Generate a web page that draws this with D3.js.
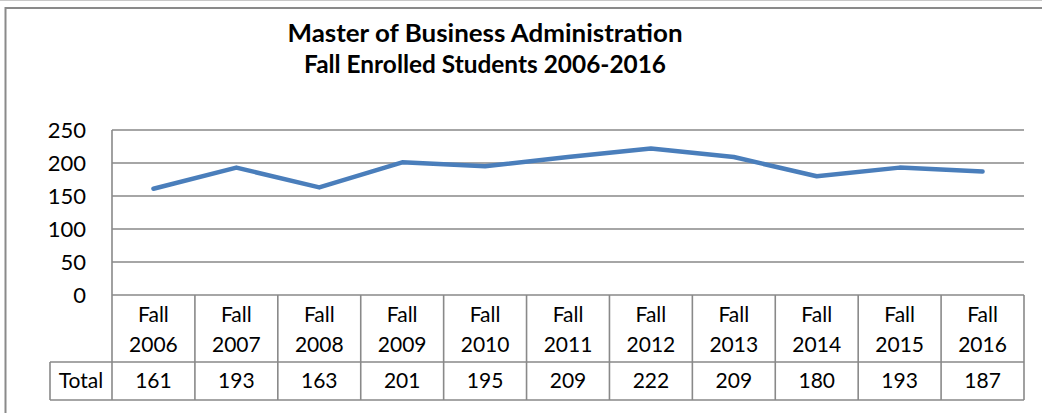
<!DOCTYPE html>
<html>
<head>
<meta charset="utf-8">
<script src="https://cdn.jsdelivr.net/npm/d3@7"></script>
<style>
  html, body { margin: 0; padding: 0; background: #fff; }
  svg { display: block; font-family: Lato, "Open Sans", sans-serif; }
</style>
</head>
<body>
<svg id="chart" width="1042" height="413"></svg>
<script>
// Fall enrollment, MBA program
const years = ["2006", "2007", "2008", "2009", "2010", "2011", "2012", "2013", "2014", "2015", "2016"];
const categories = years.map(y => "Fall " + y);
const totals = [161, 193, 163, 201, 195, 209, 222, 209, 180, 193, 187];
const yTicks = [0, 50, 100, 150, 200, 250];
const titleLines = ["Master of Business Administration", "Fall Enrolled Students 2006-2016"];
const seriesName = "Total";

const svg = d3.select("#chart");
const W = 1042, H = 413;
const plot = { left: 112, right: 1024, top: 130, bottom: 295 };
const table = { headerBottom: 362, rowBottom: 400, labelLeft: 50 };
const gridColor = "#898989";
const lineColor = "#4a7ebb";

// outer frame
svg.append("line").attr("x1", 0).attr("x2", W).attr("y1", 0.5).attr("y2", 0.5)
  .attr("stroke", "#c8c8c8").attr("stroke-width", 1);
svg.append("path")
  .attr("d", `M5.5,${H} V8 H${W}`)
  .attr("fill", "none").attr("stroke", "#8a8a8a").attr("stroke-width", 2);

// title, each line fitted to its laid-out width
const titleWidths = [395, 362];
titleLines.forEach((t, i) => {
  svg.append("text")
    .attr("x", 485).attr("y", 42 + i * 31)
    .attr("text-anchor", "middle")
    .attr("font-weight", "bold")
    .attr("font-size", 24)
    .attr("textLength", titleWidths[i])
    .attr("lengthAdjust", "spacingAndGlyphs")
    .attr("fill", "#000")
    .text(t);
});

const x = d3.scaleBand().domain(categories).range([plot.left, plot.right]);
const y = d3.scaleLinear().domain([0, 250]).range([plot.bottom, plot.top]);

// gridlines
svg.append("g").selectAll("line").data(yTicks).join("line")
  .attr("x1", plot.left).attr("x2", plot.right)
  .attr("y1", d => y(d)).attr("y2", d => y(d))
  .attr("stroke", gridColor).attr("stroke-width", 1.6);

// value axis
const yAxis = svg.append("g")
  .attr("transform", `translate(${plot.left},0)`)
  .call(d3.axisLeft(y).tickValues(yTicks).tickSize(0).tickPadding(26));
yAxis.select(".domain").remove();
yAxis.selectAll("text")
  .attr("font-family", "Lato, 'Open Sans', sans-serif")
  .attr("font-size", 22).attr("fill", "#000").attr("dy", "0.34em");

// left axis line runs down through the data table
svg.append("line").attr("x1", plot.left).attr("x2", plot.left)
  .attr("y1", plot.top).attr("y2", table.rowBottom)
  .attr("stroke", gridColor).attr("stroke-width", 1.6);

// data table
const tg = svg.append("g");
function hline(x1, x2, yy) {
  tg.append("line").attr("x1", x1).attr("x2", x2).attr("y1", yy).attr("y2", yy)
    .attr("stroke", gridColor).attr("stroke-width", 1.6);
}
function vline(xx, y1, y2) {
  tg.append("line").attr("x1", xx).attr("x2", xx).attr("y1", y1).attr("y2", y2)
    .attr("stroke", gridColor).attr("stroke-width", 1.6);
}
hline(table.labelLeft, plot.right, table.headerBottom);
hline(table.labelLeft, plot.right, table.rowBottom);
vline(table.labelLeft, table.headerBottom, table.rowBottom);
categories.forEach(c => vline(x(c) + x.bandwidth(), plot.bottom, table.rowBottom));

const fs = 21;
categories.forEach((c, i) => {
  const cx = x(c) + x.bandwidth() / 2;
  tg.append("text").attr("x", cx).attr("y", 322).attr("text-anchor", "middle")
    .attr("font-size", fs).attr("fill", "#000").text("Fall");
  tg.append("text").attr("x", cx).attr("y", 352).attr("text-anchor", "middle")
    .attr("font-size", fs).attr("fill", "#000").text(years[i]);
  tg.append("text").attr("x", cx).attr("y", 388).attr("text-anchor", "middle")
    .attr("font-size", fs).attr("fill", "#000").text(totals[i]);
});
tg.append("text").attr("x", (table.labelLeft + plot.left) / 2).attr("y", 388)
  .attr("text-anchor", "middle").attr("font-size", fs).attr("fill", "#000").text(seriesName);

// enrollment line
const line = d3.line()
  .x((d, i) => x(categories[i]) + x.bandwidth() / 2)
  .y(d => y(d));
svg.append("path").datum(totals)
  .attr("d", line)
  .attr("fill", "none")
  .attr("stroke", lineColor)
  .attr("stroke-width", 4.5)
  .attr("stroke-linejoin", "round")
  .attr("stroke-linecap", "round");
</script>
</body>
</html>
